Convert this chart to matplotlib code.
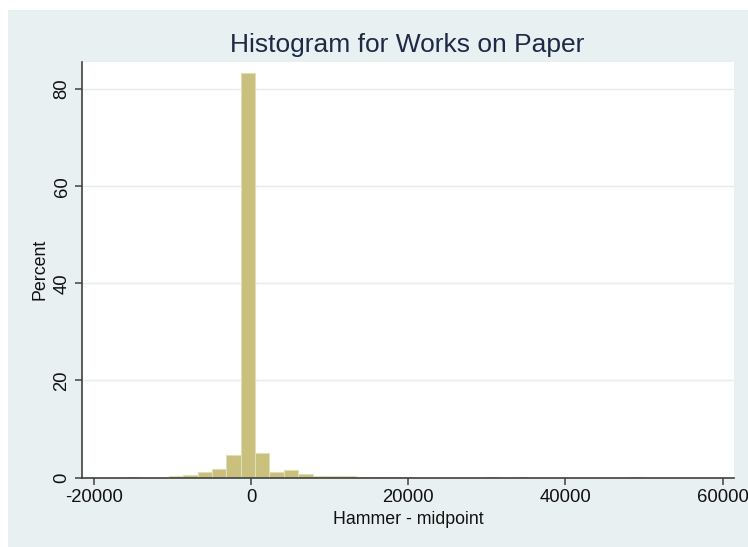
import matplotlib
matplotlib.use("Agg")
import matplotlib.pyplot as plt
from matplotlib.patches import Rectangle

# Histogram bins: first edge, bin width, and percent of works per bin
bin_start = -15950
bin_width = 1830
percent = [
    0.2, 0.0, 0.0, 0.4, 0.45, 1.15, 1.8, 4.6,
    83.3, 4.95, 1.1, 1.55, 0.7, 0.35, 0.3, 0.3,
    0.2, 0.2, 0.2, 0.15, 0.0, 0.0, 0.0, 0.0,
    0.0, 0.2, 0.0, 0.2, 0.0, 0.0, 0.0, 0.0,
    0.0, 0.0, 0.0, 0.2,
]

x_ticks = [-20000, 0, 20000, 40000, 60000]
y_ticks = [0, 20, 40, 60, 80]

title = "Histogram for Works on Paper"
x_label = "Hammer - midpoint"
y_label = "Percent"

plt.rcParams["font.family"] = ["Liberation Sans", "DejaVu Sans"]

W, H = 748, 547
fig = plt.figure(figsize=(W / 100, H / 100), dpi=100)
fig.patch.set_facecolor("white")

# Light bluish graph region
fig.add_artist(Rectangle((8 / W, -0.01), 1.01 - 8 / W, 1.01 - 10 / H,
                         transform=fig.transFigure, facecolor="#E8F0F2",
                         edgecolor="none", zorder=0))

left, right = 81.7 / W, 734 / W
bottom, top = 1 - 477.5 / H, 1 - 62 / H
ax = fig.add_axes([left, bottom, right - left, top - bottom])
ax.set_facecolor("white")

# empty bins are skipped so nothing is drawn along the baseline
lefts = [bin_start + i * bin_width for i, p in enumerate(percent) if p > 0]
heights = [p for p in percent if p > 0]
ax.bar(lefts, heights, width=bin_width, align="edge",
       color="#C8C07C", edgecolor="#E2DDB4", linewidth=0.8, zorder=3)

ax.set_xlim(-21540, 61450)
ax.set_ylim(0, 85.6)

ax.set_xticks(x_ticks)
ax.set_xticklabels([str(t) for t in x_ticks])
ax.set_yticks(y_ticks)
ax.set_yticklabels([str(t) for t in y_ticks], rotation=90, va="center")

for y in y_ticks[1:]:
    ax.axhline(y, color="#E3ECEF", linewidth=1.0, zorder=1)

for s in ("top", "right"):
    ax.spines[s].set_visible(False)
for s in ("left", "bottom"):
    ax.spines[s].set_color("#404040")
    ax.spines[s].set_linewidth(1.2)
    ax.spines[s].set_zorder(4)

ax.tick_params(axis="both", direction="out", length=5, width=1.1,
               color="#404040", labelsize=13.3, labelcolor="#111111", pad=3)

ax.set_xlabel(x_label, fontsize=12.8, color="#111111", labelpad=4)
ax.set_ylabel(y_label, fontsize=12.8, color="#111111", labelpad=4)

fig.text((232 + 583) / 2 / W, 1 - 45 / H, title, ha="center", va="center",
         fontsize=19, color="#1C2A45")

fig.savefig("out.png", dpi=100)
